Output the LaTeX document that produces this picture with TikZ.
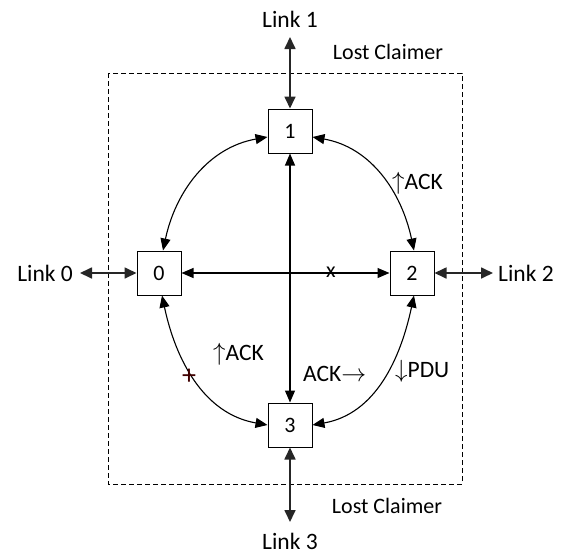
\documentclass[tikz,border=0pt]{standalone}
\usepackage{fontspec}
\setmainfont{Carlito}
\usetikzlibrary{arrows.meta}
\begin{document}
\begin{tikzpicture}[x=1pt,y=-1pt,
  box/.style={draw,line width=1pt,minimum size=44pt,inner sep=0pt,font=\fontsize{22}{24}\selectfont,fill=white},
  lbl/.style={inner sep=0pt,font=\fontsize{23.5}{26}\selectfont},
  small/.style={inner sep=0pt,font=\fontsize{22}{24}\selectfont},
  conn/.style={line width=1.1pt,{Triangle[length=12pt,width=10pt]}-{Triangle[length=12pt,width=10pt]}},
  linkarr/.style={line width=1.7pt,black!85,{Triangle[length=12pt,width=11pt]}-{Triangle[length=12pt,width=11pt]}},
  frame/.style={line width=1pt,dash pattern=on 5pt off 3pt}]
\useasboundingbox (0,0) rectangle (563,555);
\draw[frame] (108,73) rectangle (462,484);
\node[box] (n1) at (290,131) {1};
\node[box] (n0) at (159,273) {0};
\node[box] (n2) at (412,273) {2};
\node[box] (n3) at (290,425) {3};
\node[lbl,anchor=base] (l1) at (290,27) {Link 1};
\node[lbl,anchor=base] (l3) at (290,549) {Link 3};
\node[lbl,anchor=base east] (l0) at (73,281) {Link 0};
\node[lbl,anchor=base west] (l2) at (498,281) {Link 2};
\node[small,anchor=base] (lc1) at (388,59) {Lost Claimer};
\node[small,anchor=base] (lc3) at (387,513) {Lost Claimer};
\coordinate (e1) at (290,37);
\coordinate (e3) at (290,522);
\coordinate (e0) at (80,273);
\coordinate (e2) at (493,273);
\draw[linkarr] (e1) -- (n1.north);
\draw[linkarr] (n3.south) -- (e3);
\draw[linkarr] (e0) -- (n0.west);
\draw[linkarr] (n2.east) -- (e2);
\draw[conn] (n1.south) -- (n3.north);
\draw[conn] (n0.east) -- (n2.west);
\draw[conn] ([yshift=-6pt]n1.west) to[out=190,in=78] ([xshift=4pt]n0.north);
\draw[conn] ([yshift=-6pt]n1.east) to[out=-10,in=102] ([xshift=2pt]n2.north);
\draw[conn] ([xshift=3pt]n0.south) to[out=-78,in=170] (n3.west);
\draw[conn] ([xshift=2pt]n2.south) to[out=-102,in=10] (n3.east);
\node[small] (x) at (331,272) {x};
\node[inner sep=0pt,font=\fontsize{28}{30}\selectfont,black!75!red] (plus) at (189,377) {+};
\node[lbl,anchor=west] (a1) at (392,183) {$\uparrow$ACK};
\node[lbl,anchor=west] (a2) at (213,354) {$\uparrow$ACK};
\node[lbl,anchor=west] (a3) at (303,374) {ACK$\rightarrow$};
\node[lbl,anchor=west] (a4) at (395,371) {$\downarrow$PDU};
\end{tikzpicture}
\end{document}
